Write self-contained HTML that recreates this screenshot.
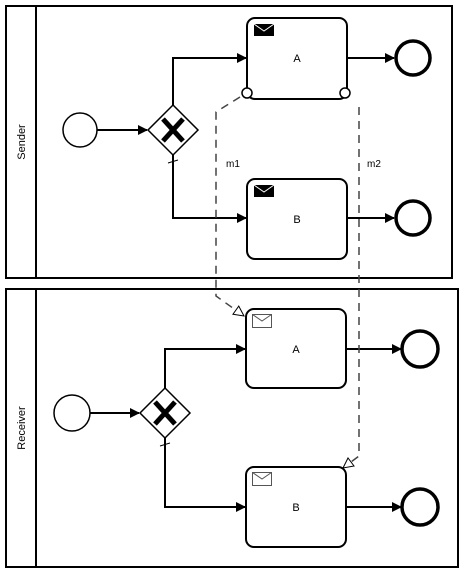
<!DOCTYPE html>
<html><head><style>body{margin:0;background:#fff}svg{display:block}</style></head><body>
<svg width="464" height="573" xmlns="http://www.w3.org/2000/svg" font-family="Liberation Sans, sans-serif">
<defs>
<marker id="a" markerWidth="10" markerHeight="10" refX="9" refY="5" orient="auto" markerUnits="userSpaceOnUse"><path d="M0,0 L10,5 L0,10 Z" fill="#000"/></marker>
<marker id="o" markerWidth="12" markerHeight="12" refX="11" refY="6" orient="auto" markerUnits="userSpaceOnUse"><path d="M1,1 L11,6 L1,11 Z" fill="#fff" stroke="#000" stroke-width="1"/></marker>
</defs>
<g fill="none" stroke="#000" stroke-width="2">
<rect x="6" y="6" width="446" height="272"/><line x1="36" y1="6" x2="36" y2="278"/>
<rect x="6" y="289" width="452" height="278"/><line x1="36" y1="289" x2="36" y2="567"/>
</g>
<text x="25" y="142" font-size="11" transform="rotate(-90 25 142)" text-anchor="middle">Sender</text>
<text x="25" y="428" font-size="11" transform="rotate(-90 25 428)" text-anchor="middle">Receiver</text>
<g stroke="#000" stroke-width="2" fill="none">
<circle cx="80" cy="130" r="17" fill="#fff" stroke-width="1.5"/>
<line x1="97" y1="130" x2="147" y2="130" marker-end="url(#a)"/>
<polyline points="173,105 173,58 246,58" marker-end="url(#a)"/>
<polyline points="173,155 173,218 246,218" marker-end="url(#a)"/>
<line x1="168" y1="163" x2="178" y2="160" stroke-width="1"/>
<rect x="247" y="18" width="100" height="81" rx="8" fill="#fff"/>
<rect x="247" y="179" width="100" height="80" rx="8" fill="#fff"/>
<line x1="347" y1="58" x2="394" y2="58" marker-end="url(#a)"/>
<line x1="347" y1="218" x2="394" y2="218" marker-end="url(#a)"/>
<circle cx="413" cy="58" r="17" stroke-width="3.5" fill="#fff"/>
<circle cx="413" cy="218" r="17" stroke-width="3.5" fill="#fff"/>
<polygon points="173,105 198,130 173,155 148,130" fill="#fff" stroke-width="1.5"/>
<circle cx="247" cy="93" r="5" fill="#fff" stroke-width="1.5"/>
<circle cx="345" cy="93" r="5" fill="#fff" stroke-width="1.5"/>
</g>
<g stroke="#000" stroke-width="2" fill="none">
<circle cx="72" cy="413" r="18" fill="#fff" stroke-width="1.5"/>
<line x1="90" y1="413" x2="139" y2="413" marker-end="url(#a)"/>
<polyline points="165,388 165,349 245,349" marker-end="url(#a)"/>
<polyline points="165,438 165,507 245,507" marker-end="url(#a)"/>
<line x1="160" y1="446" x2="170" y2="443" stroke-width="1"/>
<rect x="246" y="309" width="100" height="79" rx="8" fill="#fff"/>
<rect x="246" y="467" width="100" height="80" rx="8" fill="#fff"/>
<line x1="346" y1="349" x2="401" y2="349" marker-end="url(#a)"/>
<line x1="346" y1="507" x2="401" y2="507" marker-end="url(#a)"/>
<circle cx="420" cy="349" r="18" stroke-width="3.5" fill="#fff"/>
<circle cx="420" cy="507" r="18" stroke-width="3.5" fill="#fff"/>
<polygon points="165,388 190,413 165,438 140,413" fill="#fff" stroke-width="1.5"/>
</g>
<g stroke="#000" stroke-width="5" stroke-linecap="butt">
<path d="M163,119 L183,141 M183,119 L163,141"/>
<path d="M155,402 L175,424 M175,402 L155,424"/>
</g>
<g stroke="#444" stroke-width="1.5" fill="none" stroke-dasharray="8,6">
<polyline points="240,97 216,112 216,296 244,316" marker-end="url(#o)"/>
<polyline points="359,107 359,456 343,468" marker-end="url(#o)"/>
</g>
<text x="226" y="167" font-size="10">m1</text>
<text x="367" y="167" font-size="10">m2</text>
<rect x="254" y="24" width="20" height="12" fill="#000"/>
<path d="M254,24 L264,31 L274,24" stroke="#fff" stroke-width="1" fill="none"/>
<rect x="254" y="185" width="20" height="12" fill="#000"/>
<path d="M254,185 L264,192 L274,185" stroke="#fff" stroke-width="1" fill="none"/>
<g stroke="#555" stroke-width="1" fill="#fff">
<rect x="252.5" y="314.5" width="19" height="13"/><path d="M252.5,314.5 L262,321 L271.5,314.5" fill="none"/>
<rect x="252.5" y="472.5" width="19" height="13"/><path d="M252.5,472.5 L262,479 L271.5,472.5" fill="none"/>
</g>
<g font-size="11" text-anchor="middle">
<text x="297" y="62">A</text><text x="297" y="223">B</text>
<text x="296" y="353">A</text><text x="296" y="511">B</text>
</g>
</svg>
</body></html>
